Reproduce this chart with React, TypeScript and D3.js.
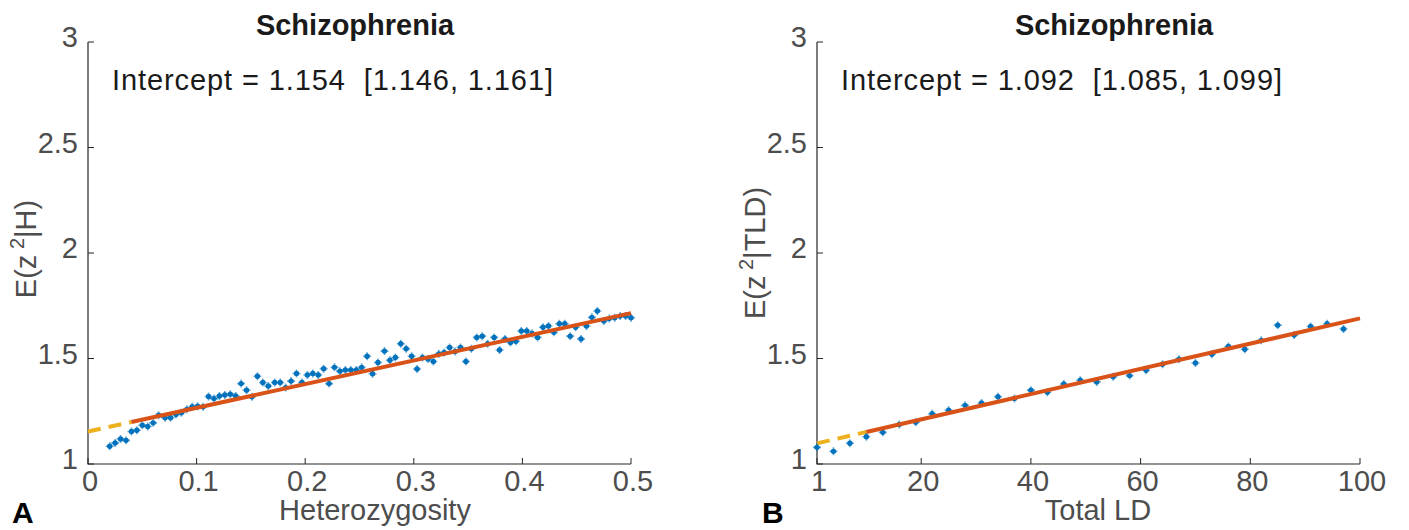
import React, { useEffect, useRef } from "react";
import * as d3 from "d3";

// heterozygosity bins (panel A)
const hetX = [
  0.020, 0.025, 0.030, 0.035, 0.040, 0.045, 0.050, 0.055, 0.060, 0.065,
  0.071, 0.076, 0.081, 0.086, 0.091, 0.096, 0.101, 0.106, 0.111, 0.116,
  0.121, 0.126, 0.131, 0.136, 0.141, 0.146, 0.151, 0.156, 0.161, 0.166,
  0.172, 0.177, 0.182, 0.187, 0.192, 0.197, 0.202, 0.207, 0.212, 0.217,
  0.222, 0.227, 0.232, 0.237, 0.242, 0.247, 0.252, 0.257, 0.262, 0.267,
  0.273, 0.278, 0.283, 0.288, 0.293, 0.298, 0.303, 0.308, 0.313, 0.318,
  0.323, 0.328, 0.333, 0.338, 0.343, 0.348, 0.353, 0.358, 0.363, 0.368,
  0.374, 0.379, 0.384, 0.389, 0.394, 0.399, 0.404, 0.409, 0.414, 0.419,
  0.424, 0.429, 0.434, 0.439, 0.444, 0.449, 0.454, 0.459, 0.464, 0.469,
  0.475, 0.480, 0.485, 0.490, 0.495, 0.500
];
const hetY = [
  1.084, 1.100, 1.119, 1.112, 1.154, 1.160, 1.184, 1.178, 1.195, 1.231,
  1.219, 1.219, 1.235, 1.243, 1.259, 1.271, 1.274, 1.271, 1.320, 1.310,
  1.322, 1.327, 1.331, 1.322, 1.381, 1.350, 1.319, 1.416, 1.386, 1.370,
  1.386, 1.386, 1.362, 1.393, 1.429, 1.386, 1.422, 1.429, 1.422, 1.452,
  1.381, 1.458, 1.440, 1.446, 1.446, 1.446, 1.458, 1.511, 1.428, 1.481,
  1.535, 1.492, 1.505, 1.570, 1.546, 1.511, 1.450, 1.505, 1.498, 1.486,
  1.522, 1.529, 1.552, 1.533, 1.552, 1.486, 1.546, 1.600, 1.606, 1.570,
  1.600, 1.540, 1.593, 1.576, 1.582, 1.630, 1.630, 1.619, 1.600, 1.648,
  1.654, 1.624, 1.665, 1.665, 1.606, 1.648, 1.593, 1.654, 1.695, 1.725,
  1.678, 1.689, 1.693, 1.701, 1.701, 1.693
];

// total LD bins (panel B)
const ldX = [
  1, 4, 7, 10, 13, 16, 19, 22, 25, 28, 31, 34, 37, 40, 43, 46, 49,
  52, 55, 58, 61, 64, 67, 70, 73, 76, 79, 82, 85, 88, 91, 94, 97
];
const ldY = [
  1.079, 1.060, 1.098, 1.129, 1.150, 1.187, 1.198, 1.238, 1.255, 1.278,
  1.289, 1.319, 1.311, 1.350, 1.340, 1.379, 1.397, 1.389, 1.413, 1.419,
  1.444, 1.473, 1.497, 1.479, 1.520, 1.557, 1.544, 1.586, 1.658, 1.611,
  1.652, 1.665, 1.640
];

const yTicks = [1, 1.5, 2, 2.5, 3];
const hetTicks = [0, 0.1, 0.2, 0.3, 0.4, 0.5];
const ldTicks = [1, 20, 40, 60, 80, 100];

// [intercept, slope, start, dashed end, solid end]
const hetFit = [1.154, 1.122, 0, 0.04, 0.5];
const ldFit = [1.092, 0.00598, 1, 10, 100];

const W = 1409;
const H = 530;
const FONT = "'Liberation Sans', Arial, Helvetica, sans-serif";
const blue = "#0072BD";
const red = "#D95319";
const yellow = "#EDB120";
const grey = "#4d4d4d";

function drawPanel(svg, o) {
  const x = d3.scaleLinear().domain(o.xDomain).range([o.left, o.left + 543]);
  const y = d3.scaleLinear().domain([1, 3]).range([464, 42]);
  const g = svg.append("g");

  // axes (MATLAB style, inward ticks)
  g.append("path")
    .attr("d", `M${x.range()[0]},${y(3)}V${y(1)}H${x.range()[1]}`)
    .attr("fill", "none")
    .attr("stroke", "#262626")
    .attr("stroke-width", 1.2);

  g.selectAll(".yt")
    .data(yTicks)
    .join("line")
    .attr("x1", x.range()[0])
    .attr("x2", x.range()[0] + 6)
    .attr("y1", d => y(d))
    .attr("y2", d => y(d))
    .attr("stroke", "#262626");

  g.selectAll(".xt")
    .data(o.xTicks)
    .join("line")
    .attr("x1", d => x(d))
    .attr("x2", d => x(d))
    .attr("y1", y(1))
    .attr("y2", y(1) - 6)
    .attr("stroke", "#262626");

  g.append("g")
    .selectAll("text")
    .data(yTicks)
    .join("text")
    .attr("x", x.range()[0] - 10)
    .attr("y", d => y(d) + 5)
    .attr("text-anchor", "end")
    .attr("font-size", 29)
    .attr("fill", grey)
    .text(d => String(d));

  g.append("g")
    .selectAll("text")
    .data(o.xTicks)
    .join("text")
    .attr("x", d => x(d) + 2)
    .attr("y", 491)
    .attr("text-anchor", "middle")
    .attr("font-size", 29)
    .attr("fill", grey)
    .text(d => String(d));

  // x label
  g.append("text")
    .attr("x", o.xLabelX)
    .attr("y", 520)
    .attr("text-anchor", "middle")
    .attr("font-size", 29)
    .attr("fill", grey)
    .text(o.xLabel);

  // y label with superscript
  const yl = g.append("text")
    .attr("transform", `translate(${o.left - 52},${o.yLabelY}) rotate(-90)`)
    .attr("text-anchor", "middle")
    .attr("font-size", 29)
    .attr("fill", grey);
  yl.append("tspan").text("E(z");
  yl.append("tspan").attr("dy", -12).attr("font-size", 20).text(" 2");
  yl.append("tspan").attr("dy", 12).text("|" + o.yCond + ")");

  // title
  g.append("text")
    .attr("x", o.titleX)
    .attr("y", 35)
    .attr("text-anchor", "middle")
    .attr("font-size", 29)
    .attr("font-weight", "bold")
    .attr("fill", "#1a1a1a")
    .text("Schizophrenia");

  g.append("text")
    .attr("x", o.left + 24)
    .attr("y", 90)
    .attr("font-size", 29)
    .attr("fill", "#1a1a1a")
    .attr("textLength", 441)
    .style("white-space", "pre")
    .text(o.intercept);

  // fit line
  const [b0, b1, s, m, e] = o.fit;
  const line = d3.line().x(d => x(d)).y(d => y(b0 + b1 * d));
  g.append("path")
    .attr("d", line([s, m]))
    .attr("stroke", yellow)
    .attr("stroke-width", 4)
    .attr("stroke-dasharray", "13,8")
    .attr("fill", "none");

  // points
  const pts = g.append("g").attr("fill", blue).attr("stroke", blue);
  o.xs.forEach((xv, i) => {
    const cx = x(xv);
    const cy = y(o.ys[i]);
    pts.append("circle").attr("cx", cx).attr("cy", cy).attr("r", 2.7).attr("stroke", "none");
    pts.append("path")
      .attr("d", `M${cx - 4},${cy}H${cx + 4}M${cx},${cy - 4}V${cy + 4}`)
      .attr("stroke-width", 1.6)
      .attr("stroke-opacity", 0.6);
  });

  g.append("path")
    .attr("d", line([m, e]))
    .attr("stroke", red)
    .attr("stroke-width", 4)
    .attr("fill", "none");

  g.append("text")
    .attr("x", o.letterX)
    .attr("y", 523)
    .attr("font-size", 30)
    .attr("font-weight", "bold")
    .attr("fill", "#000")
    .text(o.letter);
}

const App = () => {
  const ref = useRef(null);
  useEffect(() => {
    const svg = d3.select(ref.current);
    svg.selectAll("*").remove();
    svg.attr("font-family", FONT);
    drawPanel(svg, {
      left: 88,
      xDomain: [0, 0.5],
      xTicks: hetTicks,
      xs: hetX,
      ys: hetY,
      fit: hetFit,
      xLabel: "Heterozygosity",
      xLabelX: 375,
      titleX: 355,
      yCond: "H",
      yLabelY: 249,
      intercept: "Intercept = 1.154  [1.146, 1.161]",
      letter: "A",
      letterX: 12
    });
    drawPanel(svg, {
      left: 817,
      xDomain: [1, 100],
      xTicks: ldTicks,
      xs: ldX,
      ys: ldY,
      fit: ldFit,
      xLabel: "Total LD",
      xLabelX: 1098,
      titleX: 1114,
      yCond: "TLD",
      yLabelY: 253,
      intercept: "Intercept = 1.092  [1.085, 1.099]",
      letter: "B",
      letterX: 762
    });
  }, []);

  return (
    <svg
      ref={ref}
      width={W}
      height={H}
      style={{ position: "absolute", left: 0, top: 0, background: "#fff" }}
    ></svg>
  );
};

export default App;
